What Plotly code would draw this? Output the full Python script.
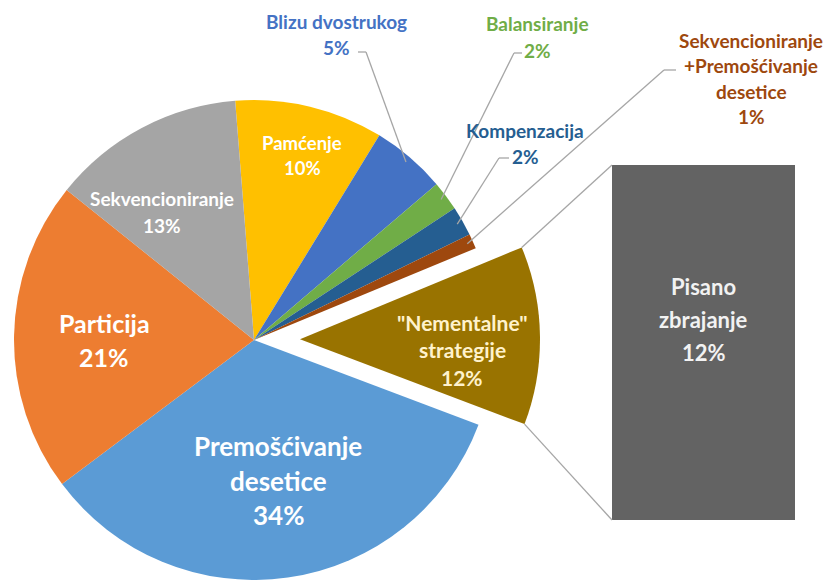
import math
import plotly.graph_objects as go

# ---- data ----
categories = ["Pamćenje", "Blizu dvostrukog", "Balansiranje", "Kompenzacija",
              "Sekvencioniranje+Premošćivanje desetice", "\"Nementalne\" strategije",
              "Premošćivanje desetice", "Particija", "Sekvencioniranje"]
values = [10, 5, 2, 2, 1, 12, 34, 21, 13]
bar_category = ["Pisano zbrajanje"]
bar_values = [12]

label_lines = {
    "Pamćenje": ["Pamćenje", "10%"],
    "Blizu dvostrukog": ["Blizu dvostrukog", "5%"],
    "Balansiranje": ["Balansiranje", "2%"],
    "Kompenzacija": ["Kompenzacija", "2%"],
    "Sekvencioniranje+Premošćivanje desetice": ["Sekvencioniranje", "+Premošćivanje", "desetice", "1%"],
    "\"Nementalne\" strategije": ["\"Nementalne\"", "strategije", "12%"],
    "Premošćivanje desetice": ["Premošćivanje", "desetice", "34%"],
    "Particija": ["Particija", "21%"],
    "Sekvencioniranje": ["Sekvencioniranje", "13%"],
}
bar_lines = ["Pisano", "zbrajanje", "12%"]

# ---- styles / layout ----
W, H = 830, 580
colors = ["#FFC000", "#4472C4", "#70AD47", "#255E91", "#9E480E",
          "#997300", "#5B9BD5", "#ED7D31", "#A5A5A5"]
CX, CY, R = 254, 340, 240
ROT = -4.5
EXPLODE = 46
exploded = "\"Nementalne\" strategije"
FONT = "Lato"

# label placement (pixel centre of first line, font size, line spacing, colour)
label_style = {
    "Pamćenje": (302, 143, 18.5, 25, "white"),
    "Blizu dvostrukog": (336, 22, 19, 26, "#4472C4"),
    "Balansiranje": (537, 24, 19, 26, "#70AD47"),
    "Kompenzacija": (525, 130, 19, 26, "#255E91"),
    "Sekvencioniranje+Premošćivanje desetice": (751, 40, 19, 25.5, "#9E480E"),
    "\"Nementalne\" strategije": (462, 322, 21, 27.5, "#FFF2CC"),
    "Premošćivanje desetice": (278, 446, 26, 34.5, "white"),
    "Particija": (104, 323, 25, 34, "white"),
    "Sekvencioniranje": (162, 198, 19, 27, "white"),
}
# leader lines: label-side end points (pixel) for outside labels
leader_ends = {
    "Blizu dvostrukog": [(358, 52), (366, 52)],
    "Balansiranje": [(522, 53), (514, 53)],
    "Kompenzacija": [(509, 158), (499, 158)],
    "Sekvencioniranje+Premošćivanje desetice": [(676, 70), (664, 70)],
}

def px(x):
    return x / W

def py(y):
    return 1 - y / H

# slice angles (clockwise from 12 o'clock)
total = sum(values)
angles = {}
a = ROT
for c, v in zip(categories, values):
    a1 = a + 360 * v / total
    angles[c] = (a, a1)
    a = a1

def pt(cx, cy, r, ang):
    t = math.radians(ang)
    return cx + r * math.sin(t), cy - r * math.cos(t)

fig = go.Figure()

main_colors = [("rgba(0,0,0,0)" if c == exploded else col) for c, col in zip(categories, colors)]
fig.add_trace(go.Pie(
    labels=categories, values=values, sort=False, direction="clockwise", rotation=ROT,
    marker=dict(colors=main_colors, line=dict(width=0)),
    textinfo="none", hoverinfo="label+percent", showlegend=False,
    domain=dict(x=[px(CX - R), px(CX + R)], y=[py(CY + R), py(CY - R)]),
))

mid = sum(angles[exploded]) / 2
ex_cx, ex_cy = pt(CX, CY, EXPLODE, mid)
exp_colors = [(col if c == exploded else "rgba(0,0,0,0)") for c, col in zip(categories, colors)]
fig.add_trace(go.Pie(
    labels=categories, values=values, sort=False, direction="clockwise", rotation=ROT,
    marker=dict(colors=exp_colors, line=dict(width=0)),
    textinfo="none", hoverinfo="skip", showlegend=False,
    domain=dict(x=[px(ex_cx - R), px(ex_cx + R)], y=[py(ex_cy + R), py(ex_cy - R)]),
))

# bar of pie
BX0, BX1, BY0, BY1 = 612, 795, 165, 520
fig.add_trace(go.Bar(
    x=bar_category, y=bar_values, marker=dict(color="#636363", line=dict(width=0)),
    showlegend=False, hoverinfo="x+y", xaxis="x", yaxis="y",
))

shapes = []
# connector lines between exploded slice and bar
a0, a1 = angles[exploded]
p_top = pt(ex_cx, ex_cy, R, a0)
p_bot = pt(ex_cx, ex_cy, R, a1)
for (x0, y0), (x1, y1) in [(p_top, (BX0, BY0)), (p_bot, (BX0, BY1))]:
    shapes.append(dict(type="line", xref="paper", yref="paper",
                       x0=px(x0), y0=py(y0), x1=px(x1), y1=py(y1),
                       line=dict(color="#A6A6A6", width=1.3)))

# leader lines
for c, ends in leader_ends.items():
    m = sum(angles[c]) / 2
    ax, ay = pt(CX, CY, R - 6, m)
    pts = ends + [(ax, ay)]
    for (x0, y0), (x1, y1) in zip(pts[:-1], pts[1:]):
        shapes.append(dict(type="line", xref="paper", yref="paper",
                           x0=px(x0), y0=py(y0), x1=px(x1), y1=py(y1),
                           line=dict(color="#A6A6A6", width=1.3)))

annotations = []
for c, lines in label_lines.items():
    x, y, fs, ls, col = label_style[c]
    for i, t in enumerate(lines):
        annotations.append(dict(text="<b>" + t + "</b>", x=px(x), y=py(y + i * ls),
                                xref="paper", yref="paper", showarrow=False,
                                xanchor="center", yanchor="middle",
                                font=dict(family=FONT, size=fs, color=col)))

for i, t in enumerate(bar_lines):
    annotations.append(dict(text="<b>" + t + "</b>", x=px((BX0 + BX1) / 2), y=py(286 + i * 33),
                            xref="paper", yref="paper", showarrow=False,
                            xanchor="center", yanchor="middle",
                            font=dict(family=FONT, size=22, color="#F2F2F2")))

fig.update_layout(
    width=W, height=H, margin=dict(l=0, r=0, t=0, b=0),
    paper_bgcolor="white", plot_bgcolor="rgba(0,0,0,0)",
    bargap=0,
    xaxis=dict(domain=[px(BX0), px(BX1)], visible=False, range=[-0.5, 0.5], fixedrange=True),
    yaxis=dict(domain=[py(BY1), py(BY0)], visible=False, range=[0, bar_values[0]], fixedrange=True),
    shapes=shapes, annotations=annotations,
    font=dict(family=FONT),
)

fig.write_html("out.html", config={"displayModeBar": False},
               post_script="document.body.style.margin='0';document.body.style.overflow='hidden';")
